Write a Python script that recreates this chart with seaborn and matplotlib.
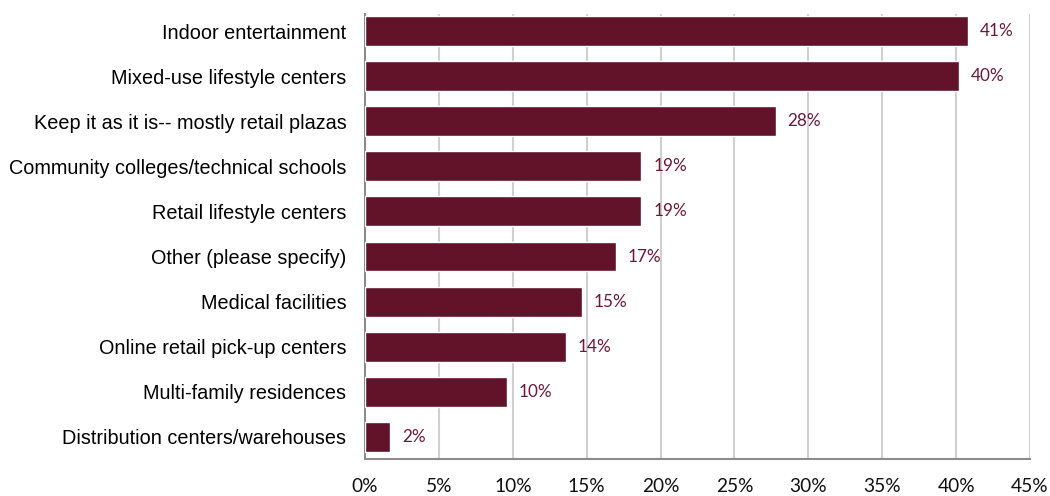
import matplotlib
matplotlib.use("Agg")
import matplotlib.pyplot as plt
import seaborn as sns
import pandas as pd
from matplotlib.ticker import PercentFormatter

categories = [
    "Indoor entertainment",
    "Mixed-use lifestyle centers",
    "Keep it as it is-- mostly retail plazas",
    "Community colleges/technical schools",
    "Retail lifestyle centers",
    "Other (please specify)",
    "Medical facilities",
    "Online retail pick-up centers",
    "Multi-family residences",
    "Distribution centers/warehouses",
]
values = [40.8, 40.2, 27.8, 18.7, 18.7, 17.0, 14.7, 13.6, 9.6, 1.7]
labels = ["41%", "40%", "28%", "19%", "19%", "17%", "15%", "14%", "10%", "2%"]
xticks = [0, 5, 10, 15, 20, 25, 30, 35, 40, 45]

df = pd.DataFrame({"category": categories, "value": values})

sns.set_style("white")
plt.rcParams["font.family"] = ["Liberation Sans", "DejaVu Sans"]

fig = plt.figure(figsize=(10.5, 4.96), dpi=100)
ax = fig.add_axes([365/1050, 1-459/496, (1030-365)/1050, (459-14)/496])

bar_color = "#62132a"
sns.barplot(data=df, x="value", y="category", color=bar_color, saturation=1,
            width=0.665, ax=ax, zorder=3)

ax.set_xlim(0, 45)
ax.set_ylim(9.49, -0.377)
ax.set_xticks(xticks)
ax.xaxis.set_major_formatter(PercentFormatter(decimals=0))
ax.grid(axis="x", color="#d0d0d0", linewidth=1.5, zorder=0)
ax.set_axisbelow(True)
ax.set_xlabel("")
ax.set_ylabel("")

for s in ["top", "right"]:
    ax.spines[s].set_visible(False)
for s in ["left", "bottom"]:
    ax.spines[s].set_color("#8c8c8c")
    ax.spines[s].set_linewidth(1.5)

ax.tick_params(axis="y", length=0, pad=13.5, labelsize=14.3, labelcolor="#000000")
ax.tick_params(axis="x", length=0, pad=14, labelsize=13.8, labelcolor="#111111")
for t in ax.get_xticklabels():
    t.set_family(["Lato", "DejaVu Sans"])

for i, (v, lab) in enumerate(zip(values, labels)):
    ax.text(v + 0.8, i, lab, va="center", ha="left", fontsize=12.3,
            color="#6b1a35", family=["Lato", "DejaVu Sans"])

fig.savefig("out.png", dpi=100)
